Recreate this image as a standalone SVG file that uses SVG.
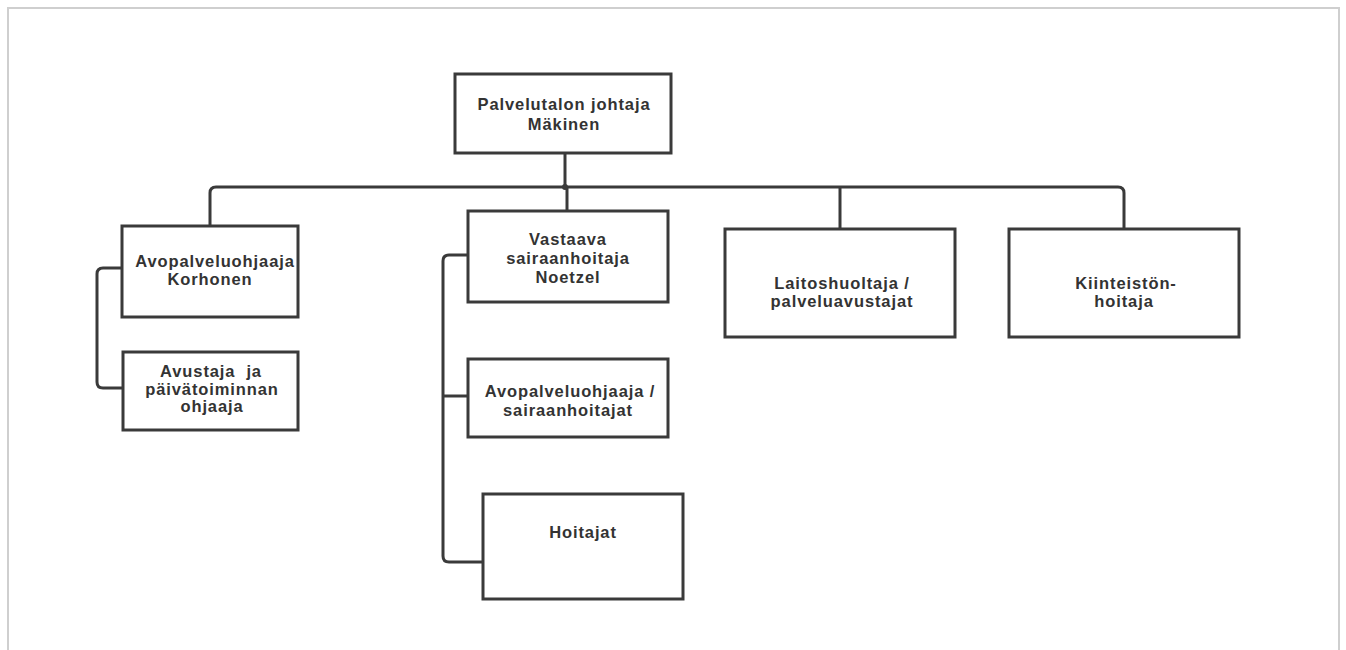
<svg xmlns="http://www.w3.org/2000/svg" width="1346" height="650" viewBox="0 0 1346 650">
<style>
.box{fill:#fff;stroke:#3a3a3a;stroke-width:3}
.con{fill:none;stroke:#3a3a3a;stroke-width:3;stroke-linejoin:round}
text{font-family:"Liberation Sans",Arial,sans-serif;font-weight:bold;font-size:16.5px;fill:#333;text-anchor:middle;letter-spacing:0.9px;white-space:pre}
</style>
<rect x="0" y="0" width="1346" height="650" fill="#fff"/>
<path d="M8 660 V8 H1339 V660" fill="none" stroke="#cfcfcf" stroke-width="2"/>
<g id="connectors">
<path class="con" d="M565 153 V187"/>
<path class="con" d="M210 226 V193 Q210 187 216 187 H1118 Q1124 187 1124 193 V229"/>
<path class="con" d="M567 187 V211"/>
<path class="con" d="M840 187 V229"/>
<circle cx="565" cy="187" r="3" fill="#3a3a3a"/>
<path class="con" d="M122 268 H103 Q97 268 97 274 V382 Q97 388 103 388 H123"/>
<path class="con" d="M468 255 H449 Q443 255 443 261 V556 Q443 562 449 562 H483"/>
<path class="con" d="M443 396 H468"/>
</g>
<g id="n-johtaja">
<rect class="box" x="455" y="74" width="216" height="79"/>
<text x="564" y="110">Palvelutalon johtaja</text>
<text x="564" y="130">Mäkinen</text>
</g>
<g id="n-korhonen">
<rect class="box" x="122" y="226" width="176" height="91"/>
<text x="215" y="267">Avopalveluohjaaja</text>
<text x="210" y="285">Korhonen</text>
</g>
<g id="n-avustaja">
<rect class="box" x="123" y="352" width="175" height="78"/>
<text x="211" y="377">Avustaja  ja</text>
<text x="212" y="395">päivätoiminnan</text>
<text x="212" y="412">ohjaaja</text>
</g>
<g id="n-noetzel">
<rect class="box" x="468" y="211" width="200" height="91"/>
<text x="568" y="245">Vastaava</text>
<text x="568" y="264">sairaanhoitaja</text>
<text x="568" y="283">Noetzel</text>
</g>
<g id="n-sairaanhoitajat">
<rect class="box" x="468" y="359" width="200" height="78"/>
<text x="570" y="397">Avopalveluohjaaja /</text>
<text x="568" y="416">sairaanhoitajat</text>
</g>
<g id="n-hoitajat">
<rect class="box" x="483" y="494" width="200" height="105"/>
<text x="583" y="538">Hoitajat</text>
</g>
<g id="n-laitoshuoltaja">
<rect class="box" x="725" y="229" width="230" height="108"/>
<text x="842" y="289">Laitoshuoltaja /</text>
<text x="842" y="307">palveluavustajat</text>
</g>
<g id="n-kiinteisto">
<rect class="box" x="1009" y="229" width="230" height="108"/>
<text x="1126" y="289">Kiinteistön-</text>
<text x="1124" y="307">hoitaja</text>
</g>
</svg>
